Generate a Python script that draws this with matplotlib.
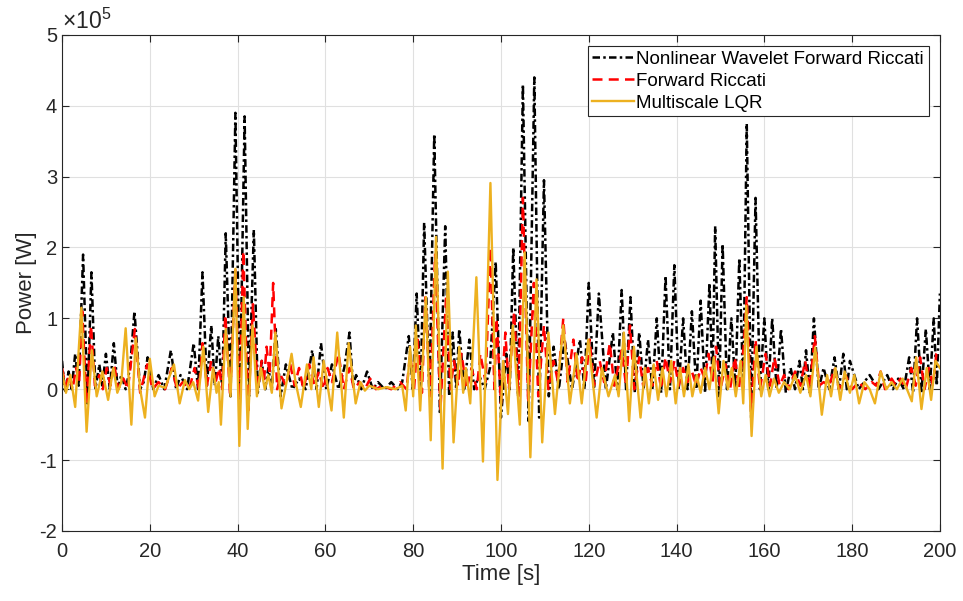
import numpy as np
import matplotlib
matplotlib.use('Agg')
from matplotlib import pyplot as plt
from matplotlib import ticker

plt.rcParams['font.family'] = ['Liberation Sans', 'DejaVu Sans']
plt.rcParams['axes.unicode_minus'] = False
plt.rcParams['mathtext.fontset'] = 'custom'
plt.rcParams['mathtext.rm'] = 'Liberation Sans'

# (time [s], power [x1e5 W]), peaks and troughs
nwfr = [(0,0.4),(0.7,-0.05),(1.5,0.25),(2.2,0.0),(3.0,0.5),(3.8,0.05),(4.8,1.9),(5.8,-0.2),(6.7,1.65),(7.6,0.0),
        (8.5,0.35),(9.2,0.05),(10.0,0.5),(10.9,0.0),(11.8,0.65),(12.7,0.0),(13.5,0.2),(14.5,0.0),(15.5,0.3),(16.5,1.1),
        (17.8,0.0),(18.6,0.1),(19.5,0.45),(20.8,0.0),(22.0,0.2),(23.3,0.0),(24.8,0.55),(26.0,0.0),(27.0,0.2),(28.5,0.0),
        (30.0,0.65),(31.0,0.0),(32.0,1.65),(33.0,0.05),(34.0,0.9),(34.8,0.05),(35.6,0.75),(36.5,0.0),(37.3,2.2),(38.4,-0.1),
        (39.5,3.9),(40.5,-0.2),(41.6,3.85),(42.6,-0.1),(43.7,2.25),(44.6,-0.05),(45.5,0.4),(46.3,0.0),(47.0,0.3),(47.8,0.0),
        (48.7,0.85),(49.8,-0.1),(51.0,0.35),(52.5,0.0),(54.0,0.15),(55.5,0.0),(57.0,0.55),(58.0,0.0),(59.0,0.65),(60.2,0.0),
        (61.5,0.35),(63.0,0.0),(64.3,0.3),(65.5,0.8),(66.3,0.05),(67.0,0.2),(68.2,0.0),(69.5,0.25),(70.8,0.0),(72.0,0.1),
        (73.5,0.0),(75.0,0.1),(76.5,0.0),(77.5,0.1),(79.0,0.75),(79.9,0.0),(80.8,1.35),(81.7,-0.05),(82.5,2.35),(83.7,-0.1),
        (84.8,3.6),(86.1,-0.35),(87.3,2.3),(88.2,-0.1),(89.0,0.8),(89.8,0.0),(90.5,0.85),(91.6,0.0),(92.8,0.7),(93.9,0.0),
        (95.0,0.2),(96.3,0.0),(97.5,0.3),(98.8,1.8),(100.0,-0.4),(101.2,0.5),(102.0,0.0),(102.8,2.0),(103.9,-0.1),(105.0,4.3),
        (106.3,-0.45),(107.6,4.4),(108.7,-0.4),(109.8,2.95),(110.9,-0.1),(112.0,0.6),(113.2,0.0),(114.5,0.7),(116.2,0.0),(118.0,0.7),
        (119.0,0.0),(120.0,1.5),(121.2,0.0),(122.3,1.35),(123.9,0.0),(125.5,0.8),(126.5,0.0),(127.5,1.4),(128.5,0.0),(129.5,1.3),
        (130.5,-0.05),(131.5,0.8),(132.5,0.0),(133.5,0.7),(134.5,0.0),(135.5,1.0),(136.5,-0.05),(137.5,1.6),(138.5,0.0),(139.5,1.75),
        (140.5,0.0),(141.5,1.0),(142.5,0.0),(143.5,1.1),(144.5,0.0),(145.5,1.25),(146.5,-0.05),(147.5,1.5),(148.2,0.1),(148.8,2.3),
        (149.7,-0.1),(150.5,2.05),(151.5,0.0),(152.5,1.0),(153.4,0.0),(154.3,1.85),(155.2,0.0),(156.0,3.75),(157.0,-0.4),(158.0,2.7),
        (159.0,0.0),(160.0,1.0),(160.9,0.0),(161.8,1.0),(162.8,0.0),(163.8,0.85),(164.9,-0.05),(166.0,0.3),(167.0,0.0),(168.0,0.4),
        (168.8,0.0),(169.5,0.55),(170.4,-0.05),(171.3,1.0),(172.4,0.0),(173.5,0.3),(174.8,0.0),(176.0,0.45),(177.0,0.0),(178.0,0.5),
        (178.8,0.0),(179.5,0.4),(181.5,0.0),(184.0,0.2),(186.0,0.0),(188.0,0.2),(189.3,0.0),(190.5,0.15),(191.8,0.0),(193.0,0.45),
        (193.9,-0.05),(194.8,1.0),(195.8,-0.05),(196.8,0.85),(197.7,0.0),(198.6,1.0),(199.3,0.05),(200.0,1.35)]

fr = [(0,0.3),(0.8,0.05),(1.6,0.2),(2.4,0.0),(3.2,0.3),(3.9,0.1),(4.6,1.1),(5.6,-0.2),(6.6,0.9),(7.5,0.05),
      (8.5,0.2),(9.3,0.0),(10.2,0.3),(11.0,0.05),(11.9,0.35),(12.8,0.0),(14.0,0.15),(15.0,0.0),(16.6,0.85),(17.8,-0.05),
      (19.4,0.35),(20.6,0.0),(22.0,0.1),(23.5,0.0),(25.0,0.3),(26.2,0.0),(27.5,0.1),(29.0,0.0),(30.2,0.3),(31.2,0.0),
      (32.0,0.65),(33.0,0.05),(34.0,0.4),(35.0,0.1),(35.8,0.3),(36.5,0.0),(37.2,1.05),(38.3,-0.1),(39.5,1.7),(40.4,-0.25),
      (41.3,1.95),(42.4,-0.35),(43.5,1.2),(44.6,0.0),(45.5,0.4),(46.0,0.1),(46.6,0.6),(47.3,0.2),(48.1,1.5),(49.0,0.0),
      (49.8,0.2),(51.0,0.05),(52.0,0.35),(53.0,0.05),(54.0,0.3),(55.0,0.0),(56.3,0.35),(57.5,0.05),(58.5,0.25),(59.6,0.0),
      (60.5,0.3),(61.5,0.1),(63.0,0.5),(64.2,0.0),(65.5,0.3),(66.5,0.0),(67.8,0.1),(69.0,0.0),(70.2,0.15),(71.5,0.0),
      (73.0,0.05),(75.0,0.0),(77.0,0.1),(78.5,0.0),(79.3,0.5),(80.2,0.0),(81.0,0.7),(82.0,-0.05),(82.8,1.3),(83.9,-0.1),
      (85.0,1.9),(86.2,-0.3),(87.5,1.3),(88.5,0.0),(89.3,0.4),(90.2,0.05),(91.0,0.5),(92.2,0.0),(93.3,0.3),(94.5,0.0),
      (95.3,0.5),(96.5,0.1),(97.6,2.0),(98.5,0.0),(99.0,1.0),(100.0,-0.2),(101.0,0.8),(101.8,0.0),(103.0,1.1),(104.0,-0.1),
      (105.0,2.7),(106.2,-0.2),(107.5,1.5),(108.5,-0.1),(109.8,0.9),(110.8,0.0),(112.0,0.4),(113.0,0.1),(114.2,1.0),(115.2,0.1),
      (116.5,0.7),(117.5,0.1),(118.5,0.45),(119.3,0.1),(120.2,0.7),(121.2,0.05),(122.5,0.4),(123.5,0.1),(124.8,0.65),(125.8,0.05),
      (127.5,0.55),(128.5,0.05),(129.4,0.9),(130.4,0.0),(131.5,0.45),(132.4,0.05),(133.5,0.3),(134.5,0.05),(135.5,0.4),(136.5,0.0),
      (137.5,0.45),(138.5,0.1),(139.5,0.4),(140.5,0.05),(141.5,0.3),(142.5,0.1),(143.5,0.25),(144.5,0.05),(145.5,0.3),(146.4,0.15),
      (147.3,0.5),(148.2,0.1),(149.0,0.6),(150.0,0.0),(151.2,0.35),(152.2,0.0),(153.3,0.45),(154.2,0.0),(155.3,0.6),(156.0,1.3),
      (157.0,-0.3),(158.0,0.7),(159.0,0.0),(160.3,0.5),(161.3,0.05),(162.3,0.45),(163.5,0.05),(164.5,0.2),(165.5,0.0),(167.0,0.25),
      (168.2,0.05),(169.3,0.4),(170.3,0.0),(171.5,0.75),(172.5,0.05),(173.5,0.1),(174.8,0.05),(176.0,0.3),(177.0,0.0),(178.5,0.2),
      (180.0,0.0),(181.5,0.1),(183.0,0.0),(184.5,0.1),(185.5,0.05),(186.5,0.25),(187.5,0.0),(189.0,0.15),(190.0,0.05),(191.0,0.15),
      (192.2,0.0),(193.5,0.3),(194.5,0.05),(195.5,0.45),(196.5,0.0),(197.5,0.3),(198.4,0.05),(199.2,0.5),(200.0,0.55)]

mlqr = [(0,0.25),(0.9,-0.05),(1.9,0.2),(3.0,-0.25),(4.4,1.15),(5.6,-0.6),(6.8,0.55),(7.9,-0.1),(9.2,0.25),(10.5,-0.15),
        (11.7,0.3),(12.6,-0.05),(13.5,0.1),(14.5,0.86),(15.8,-0.5),(16.8,0.72),(17.8,0.0),(18.9,-0.4),(20.0,0.43),(21.1,-0.1),
        (22.0,0.05),(23.5,0.02),(25.5,0.35),(26.8,-0.2),(28.0,0.13),(29.0,0.0),(29.9,0.1),(31.0,-0.16),(32.2,0.6),(33.3,-0.32),
        (34.4,0.3),(35.2,-0.05),(35.7,0.1),(36.2,-0.5),(37.3,0.85),(38.4,-0.1),(39.5,1.7),(40.4,-0.8),(41.4,1.3),(42.3,-0.56),
        (43.4,0.9),(44.4,-0.1),(45.3,0.3),(46.2,0.0),(47.0,0.2),(47.8,-0.05),(48.6,0.8),(50.0,-0.27),(51.0,0.05),(52.3,0.5),
        (53.2,0.1),(54.4,-0.25),(55.8,0.35),(56.8,0.0),(57.3,0.45),(58.5,-0.25),(59.6,0.4),(61.4,-0.3),(62.7,0.8),(64.2,-0.4),
        (65.3,0.65),(66.9,-0.2),(68.0,0.1),(69.0,-0.02),(70.0,0.05),(72.0,0.0),(74.0,0.03),(76.0,0.0),(77.5,0.05),(78.3,-0.3),
        (79.3,0.6),(80.0,-0.1),(80.6,0.9),(81.6,-0.3),(82.9,1.3),(84.0,-0.72),(85.2,2.15),(86.7,-1.12),(87.9,1.66),(89.2,-0.75),
        (90.5,0.6),(91.4,-0.05),(92.0,0.3),(93.0,-0.2),(94.4,1.58),(95.9,-1.02),(97.6,2.91),(99.2,-1.28),(100.5,0.4),(101.6,-0.35),
        (102.7,0.9),(104.3,-0.5),(105.4,1.93),(106.7,-0.96),(108.1,1.55),(109.4,-0.75),(110.8,0.8),(112.3,-0.35),(114.2,0.9),(115.7,-0.2),
        (117.2,0.5),(118.4,-0.2),(119.9,0.7),(121.8,-0.4),(123.0,0.3),(124.5,-0.1),(126.0,0.2),(126.8,-0.1),(128.0,0.8),(129.2,-0.45),
        (130.3,0.6),(131.8,-0.4),(132.8,0.3),(133.7,-0.2),(134.8,0.35),(135.8,-0.15),(136.8,0.3),(137.7,-0.1),(138.8,0.4),(139.8,-0.2),
        (140.8,0.3),(141.7,-0.1),(142.7,0.35),(143.6,-0.1),(144.6,0.2),(145.5,-0.05),(146.5,0.3),(147.5,0.0),(148.5,0.45),(149.6,-0.34),
        (150.7,0.4),(151.7,0.0),(152.6,0.3),(153.5,-0.1),(154.6,0.4),(155.2,-0.2),(155.9,1.18),(157.1,-0.66),(158.2,0.6),(159.3,-0.1),
        (160.3,0.2),(161.2,-0.1),(162.2,0.15),(163.3,-0.05),(164.5,0.1),(165.8,0.0),(167.0,0.2),(168.2,-0.05),(169.5,0.2),(170.5,-0.1),
        (171.6,0.59),(173.1,-0.36),(174.3,0.2),(175.2,-0.1),(176.2,0.3),(177.3,-0.15),(178.3,0.25),(179.5,-0.05),(180.5,0.2),(181.6,-0.2),
        (182.8,0.1),(184.0,0.0),(185.2,-0.2),(186.5,0.25),(187.8,0.0),(189.0,0.1),(190.2,0.0),(191.5,0.15),(192.5,0.0),(193.6,-0.17),
        (194.6,0.45),(195.8,-0.28),(197.0,0.3),(198.0,-0.15),(199.0,0.4),(200.0,0.3)]

labels = ['Nonlinear Wavelet Forward Riccati', 'Forward Riccati', 'Multiscale LQR']
scale = 1e5

#

fig = plt.figure(figsize=(9.63, 6.01), dpi=100)
ax = fig.add_axes([0.0644, 0.1165, 0.9116, 0.8255])

series = [nwfr, fr, mlqr]
styles = [dict(color='k', ls=(0, (3.0, 1.3, 1.0, 1.3)), lw=1.8),
          dict(color='#ff0000', ls=(0, (4.0, 2.5)), lw=1.8),
          dict(color='#edb120', ls='-', lw=1.7)]
for s, st, lab in zip(series, styles, labels):
    a = np.array(s)
    ax.plot(a[:, 0], a[:, 1]*scale, label=lab, **st)

ax.set_xlim(0, 200)
ax.set_ylim(-2e5, 5e5)
ax.set_xticks(np.arange(0, 201, 20))
ax.set_yticks(np.arange(-2, 6)*scale)
# matlab style: plain hyphen minus, exponent drawn separately
ax.yaxis.set_major_formatter(ticker.FuncFormatter(lambda v, p: f'{v/scale:g}'))
ax.text(0.0, 1.002, r'$\times\mathregular{10^{5}}$', transform=ax.transAxes,
        ha='left', va='bottom', fontsize=16.5, color='#262626')

ax.grid(True, color='#e0e0e0', lw=0.8)
ax.set_axisbelow(True)
ax.tick_params(direction='in', top=True, right=True, labelsize=14.5, colors='#262626', length=5)
ax.tick_params(axis='x', pad=8)
for sp in ax.spines.values():
    sp.set_color('#262626')
    sp.set_linewidth(0.8)

ax.set_xlabel('Time [s]', fontsize=16, color='#262626', labelpad=2)
ax.set_ylabel('Power [W]', fontsize=16, color='#262626', labelpad=2)

leg = ax.legend(loc='upper right', fontsize=13.5, frameon=True, fancybox=False,
                edgecolor='#262626', framealpha=1, handlelength=2.2, handletextpad=0.15,
                borderpad=0.25, labelspacing=0.25, borderaxespad=0.6)
leg.get_frame().set_linewidth(0.8)

fig.savefig('out.png', dpi=100)
